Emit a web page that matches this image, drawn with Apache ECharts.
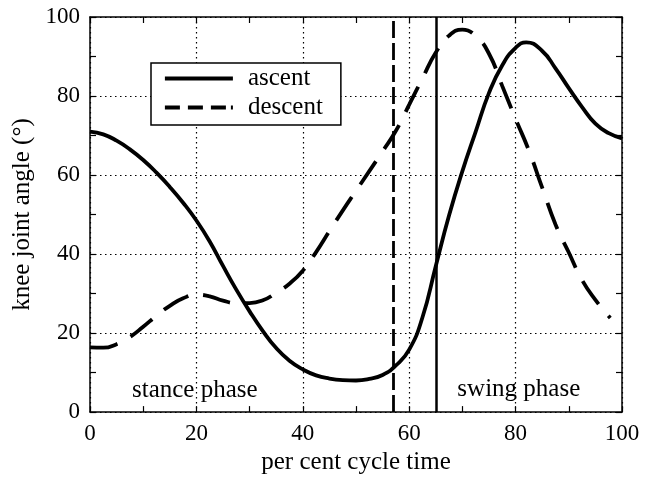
<!DOCTYPE html>
<html>
<head>
<meta charset="utf-8">
<script src="https://cdn.jsdelivr.net/npm/echarts@6/dist/echarts.min.js"></script>
<style>html,body{margin:0;padding:0;background:#fff}#c{width:657px;height:480px}</style>
</head>
<body>
<div id="c"></div>
<script>
const ascentX = [0, 2.5, 5, 7.5, 10, 12.5, 15, 17.5, 20, 22.5, 25, 27.5, 30, 32.5, 35, 37.5, 40, 42.5, 45, 47.5, 50, 52.5, 55, 57.5, 60, 62.5, 65, 67.5, 70, 72.5, 75, 77.5, 80, 82, 85, 87.5, 90, 92.5, 95, 97.5, 100];
const ascentY = [71, 70.3, 68.7, 66.5, 63.8, 60.6, 57, 53, 48.5, 43.2, 37, 31, 25.5, 20.5, 16.2, 13, 10.8, 9.3, 8.5, 8.1, 8, 8.4, 9.4, 11.8, 15.8, 24, 37, 49.8, 61, 71, 80.8, 87.8, 92.2, 93.6, 91.4, 87, 82, 77.2, 73, 70.6, 69.3];
const descentX = [0, 2.5, 5, 7.5, 10, 12.5, 15, 17.5, 20, 22.5, 25, 27.5, 30, 32.5, 35, 37.5, 40, 42.5, 45, 47.5, 50, 52.5, 55, 57.5, 60, 62.5, 65, 67.5, 70, 72.5, 75, 77.5, 80, 82.5, 85, 87.5, 90, 92.5, 95, 97.8];
const descentY = [16.4, 16.3, 17.2, 19, 21.6, 24.4, 26.9, 28.8, 29.7, 29.3, 28.2, 27.6, 27.6, 28.3, 30.2, 32.5, 35.8, 40.5, 45.8, 51, 56, 61, 66, 71.2, 77.8, 84.5, 91, 95.3, 96.8, 95.2, 90.7, 82.5, 74.2, 66.2, 56.8, 47.5, 40.4, 33.4, 28.4, 23.8];
const phaseLines = [57, 65];
const xTicks = [0, 20, 40, 60, 80, 100];
const yTicks = [0, 20, 40, 60, 80, 100];
const annotations = [
  { text: 'stance phase', x: 19.7, y: 5.5 },
  { text: 'swing phase', x: 80.6, y: 5.7 }
];

const FF = '"Liberation Serif", "DejaVu Serif", serif';
const chart = echarts.init(document.getElementById('c'));
const pair = (xs, ys) => xs.map((x, i) => [x, ys[i]]);
const dotted = { color: '#000', width: 1.2, type: [1.5, 3.5] };

const baseAxis = {
  min: 0, max: 100, interval: 20,
  axisLine: { show: true, onZero: false, lineStyle: { color: '#000', width: 1.5 } },
  axisTick: { show: true, inside: true, length: 6, lineStyle: { color: '#000', width: 1.2 } },
  minorTick: { show: true, splitNumber: 2, length: 6, lineStyle: { color: '#000', width: 1.2 } },
};

chart.setOption({
  animation: false,
  backgroundColor: '#fff',
  grid: { left: 90, right: 35, top: 17, bottom: 67 },
  xAxis: [
    Object.assign({}, baseAxis, {
      type: 'value', position: 'bottom',
      name: 'per cent cycle time', nameLocation: 'middle', nameGap: 33,
      nameTextStyle: { fontFamily: FF, fontSize: 25, color: '#000' },
      axisLabel: { fontFamily: FF, fontSize: 23, color: '#000', margin: 10,
        formatter: v => xTicks.includes(v) ? String(v) : '' },
      splitLine: { show: true, lineStyle: dotted }
    }),
    Object.assign({}, baseAxis, {
      type: 'value', position: 'top', axisLabel: { show: false }, splitLine: { show: false }
    })
  ],
  yAxis: [
    Object.assign({}, baseAxis, {
      type: 'value', position: 'left',
      name: 'knee joint angle (°)', nameLocation: 'middle', nameGap: 43,
      nameTextStyle: { fontFamily: FF, fontSize: 25, color: '#000' },
      axisLabel: { fontFamily: FF, fontSize: 23, color: '#000', margin: 10,
        formatter: v => yTicks.includes(v) ? String(v) : '' },
      splitLine: { show: true, lineStyle: dotted }
    }),
    Object.assign({}, baseAxis, {
      type: 'value', position: 'right', axisLabel: { show: false }, splitLine: { show: false }
    })
  ],
  legend: {
    orient: 'vertical', left: 151, top: 63,
    padding: [3, 18, 5, 12], itemGap: 4,
    itemWidth: 68, itemHeight: 14,
    backgroundColor: '#fff', borderColor: '#000', borderWidth: 1.5,
    itemStyle: { opacity: 0 },
    textStyle: { fontFamily: FF, fontSize: 25, color: '#000', padding: [0, 0, 0, 10] },
    data: [
      { name: 'ascent', lineStyle: { width: 3.8 } },
      { name: 'descent', lineStyle: { width: 3.8, type: [15, 8, 15, 8, 15, 5, 2, 100] } }
    ]
  },
  series: [
    {
      name: 'ascent', type: 'line', smooth: true, symbol: 'none',
      data: pair(ascentX, ascentY),
      lineStyle: { color: '#000', width: 3.8 },
      itemStyle: { color: '#000' },
      markLine: {
        silent: true, symbol: 'none', label: { show: false },
        data: [
          { xAxis: phaseLines[0], lineStyle: { color: '#000', width: 2.8, type: [17, 5] } },
          { xAxis: phaseLines[1], lineStyle: { color: '#000', width: 2.5, type: 'solid' } }
        ]
      },
      z: 3
    },
    {
      name: 'descent', type: 'line', smooth: true, symbol: 'none',
      data: pair(descentX, descentY),
      lineStyle: { color: '#000', width: 3.8, type: [28, 15] },
      itemStyle: { color: '#000' },
      z: 3
    }
  ]
});

const graphics = annotations.map(a => {
  const p = chart.convertToPixel({ xAxisIndex: 0, yAxisIndex: 0 }, [a.x, a.y]);
  return { type: 'text', x: p[0], y: p[1], z: 10,
    style: { text: a.text, fontFamily: FF, fontSize: 25, fill: '#000', align: 'center', verticalAlign: 'middle' } };
});
chart.setOption({ graphic: graphics });
</script>
</body>
</html>
